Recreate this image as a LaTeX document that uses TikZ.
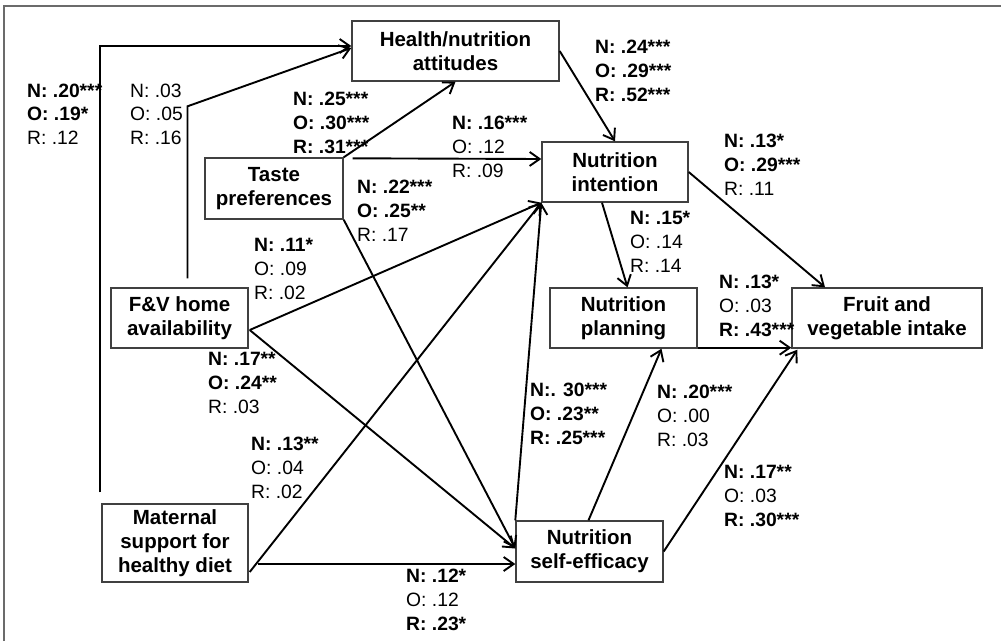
\documentclass[tikz,border=0pt]{standalone}
\usepackage{fontspec}
\setmainfont{Liberation Sans}
\usetikzlibrary{arrows.meta,calc}
\begin{document}
\begin{tikzpicture}[x=1pt,y=-1pt,
  box/.style={draw=black!75, line width=1.4pt, align=center, inner sep=0pt,
    font=\bfseries\fontsize{20.5}{24}\selectfont},
  lab/.style={anchor=north west, align=left, inner sep=0pt,
    font=\fontsize{19.3}{23.8}\selectfont},
  arr/.style={line width=1.9pt, -{Straight Barb[length=10pt,width=14pt,line width=1.9pt]}}]
\useasboundingbox (0,0) rectangle (1001,641);
% frame
\draw[line width=2.5pt, black!58] (4,641) -- (4,6) -- (1001,6);

% boxes
\node[box, minimum width=207pt, minimum height=60pt] (health) at (455.5,51) {Health/nutrition\\attitudes};
\node[box, minimum width=146pt, minimum height=60pt] (intent) at (615,172) {Nutrition\\intention};
\node[box, minimum width=138pt, minimum height=61pt] (taste) at (274,188.5) {Taste\\preferences};
\node[box, minimum width=137pt, minimum height=60pt] (fv) at (179.5,318) {F\&V home\\availability};
\node[box, minimum width=147pt, minimum height=60pt] (plan) at (623.5,318) {Nutrition\\planning};
\node[box, minimum width=190pt, minimum height=60pt] (fruit) at (887,318) {Fruit and\\vegetable intake};
\node[box, minimum width=146pt, minimum height=78pt] (mat) at (175,543) {Maternal\\support for\\healthy diet};
\node[box, minimum width=147pt, minimum height=61pt] (se) at (589.5,551.5) {Nutrition\\self-efficacy};

% connectors
\draw[arr] ($(mat.north west)+(-1,-11)$) |- ($(health.west)+(0,-5)$);
\draw[arr] ($(fv.north)+(8,-9)$) -- ++(0,-172) -- ($(health.west)+(0,-3)$);
\draw[arr] (taste.north east) -- (health.south);
\draw[arr] ($(taste.north east)+(9,1)$) -- ($(intent.west)+(0,-13)$);
\draw[arr] (health.east) -- (intent.north);
\draw[arr] (taste.south east) -- ($(se.west)+(0,-3)$);
\draw[arr] ($(fv.east)+(1,12)$) -- (intent.south west);
\draw[arr] ($(fv.east)+(1,12)$) -- ($(se.west)+(0,-3)$);
\draw[arr] ($(mat.east)+(1,29)$) -- (intent.south west);
\draw[arr] ($(mat.east)+(9,21)$) -- ($(se.west)+(0,12.5)$);
\draw[arr] (se.north west) -- (intent.south west);
\draw[arr] ($(se.north)+(-1,0)$) -- ($(plan.south)+(38,0)$);
\draw[arr] (se.east) -- ($(fruit.south west)+(6,1)$);
\draw[arr] ($(intent.south)+(-13,0)$) -- ($(plan.north)+(4,0)$);
\draw[arr] (intent.east) -- ($(fruit.north)+(-62,0)$);
\draw[arr] ($(plan.south east)+(0,-1)$) -- ($(fruit.south west)+(0,-1)$);

% labels
\node[lab] (l1) at (27,83.5) {\textbf{N: .20***}\\\textbf{O: .19*}\\R: .12};
\node[lab] (l2) at (130,83.5) {N: .03\\O: .05\\R: .16};
\node[lab] (l3) at (293,92) {\textbf{N: .25***}\\\textbf{O: .30***}\\\textbf{R: .31***}};
\node[lab] (l4) at (595,40) {\textbf{N: .24***}\\\textbf{O: .29***}\\\textbf{R: .52***}};
\node[lab] (l5) at (452,116) {\textbf{N: .16***}\\O: .12\\R: .09};
\node[lab] (l6) at (357,180) {\textbf{N: .22***}\\\textbf{O: .25**}\\R: .17};
\node[lab] (l7) at (724,134) {\textbf{N: .13*}\\\textbf{O: .29***}\\R: .11};
\node[lab] (l8) at (630,211) {\textbf{N: .15*}\\O: .14\\R: .14};
\node[lab] (l9) at (254,238) {\textbf{N: .11*}\\O: .09\\R: .02};
\node[lab] (l10) at (208,352) {\textbf{N: .17**}\\\textbf{O: .24**}\\R: .03};
\node[lab] (l11) at (719,275) {\textbf{N: .13*}\\O: .03\\\textbf{R: .43***}};
\node[lab] (l12) at (530,383) {\textbf{N:. 30***}\\\textbf{O: .23**}\\\textbf{R: .25***}};
\node[lab] (l13) at (657,385) {\textbf{N: .20***}\\O: .00\\R: .03};
\node[lab] (l14) at (251,437) {\textbf{N: .13**}\\O: .04\\R: .02};
\node[lab] (l15) at (724,465) {\textbf{N: .17**}\\O: .03\\\textbf{R: .30***}};
\node[lab] (l16) at (406,569) {\textbf{N: .12*}\\O: .12\\\textbf{R: .23*}};
\end{tikzpicture}
\end{document}
